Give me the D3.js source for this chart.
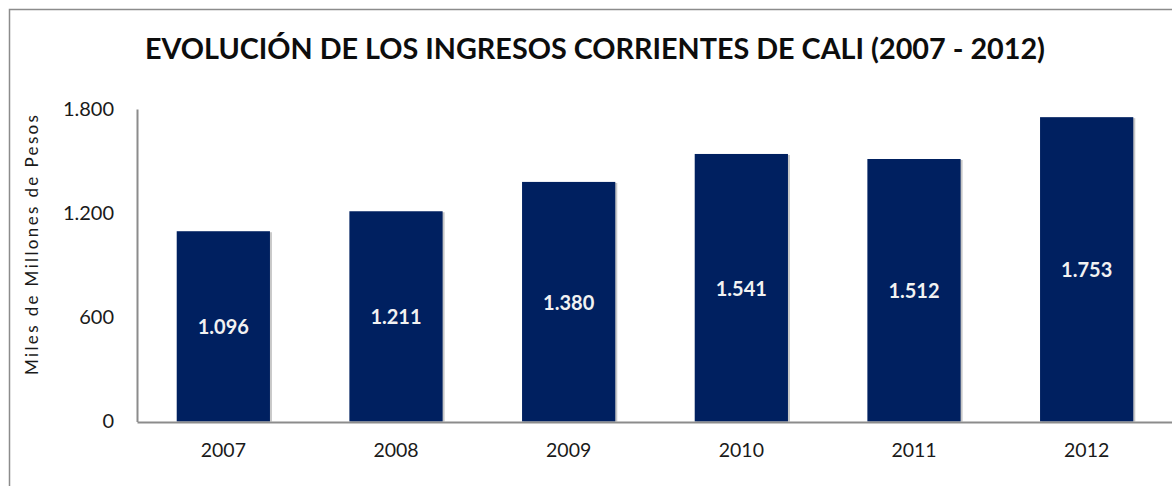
<!DOCTYPE html>
<html>
<head>
<meta charset="utf-8">
<script src="https://cdn.jsdelivr.net/npm/d3@7"></script>
<style>
  body { margin: 0; background: #fff; }
  svg { display: block; font-family: Lato, "Open Sans", sans-serif; }
</style>
</head>
<body>
<div id="chart"></div>
<script>
(function(){

  var width = 1172;
  var height = 486;

  var years = ['2007', '2008', '2009', '2010', '2011', '2012'];
  var ingresos = [1096, 1211, 1380, 1541, 1512, 1753];
  var yTicks = [0, 600, 1200, 1800];

  var margin = {top: 109, right: -1, bottom: 64, left: 137};

  var svg = d3.select('#chart')
        .append('svg')
        .attr('width', width)
        .attr('height', height);

  // chart frame (runs off right and bottom edge)
  svg.append('rect')
    .attr('x', 9.5).attr('y', 9.5)
    .attr('width', width + 20).attr('height', height + 20)
    .attr('fill', '#fff')
    .attr('stroke', '#8c8c8c')
    .attr('stroke-width', 1.5);

  var x = d3.scaleBand()
      .domain(years)
      .range([margin.left, width - margin.right])
      .paddingInner(0.46)
      .paddingOuter(0.23);

  var y = d3.scaleLinear()
      .domain([0, 1800])
      .range([height - margin.bottom - 0.5, margin.top]);

  // dot as thousands separator
  var fmt = function(v){
    return d3.format(',')(v).replace(/,/g, '.');
  };

  svg.append('text')
    .attr('x', 145)
    .attr('y', 59)
    .attr('textLength', 900)
    .attr('lengthAdjust', 'spacingAndGlyphs')
    .attr('font-size', 28)
    .attr('font-weight', 'bold')
    .attr('fill', '#0d0d0d')
    .text('EVOLUCIÓN DE LOS INGRESOS CORRIENTES DE CALI (2007 - 2012)');

  // shadows
  svg.selectAll('rect.shadow')
    .data(ingresos)
    .enter()
    .append('rect')
      .attr('class', 'shadow')
      .attr('x', function(d, i){ return x(years[i]) + 2; })
      .attr('y', function(d){ return y(d) + 1; })
      .attr('width', x.bandwidth())
      .attr('height', function(d){ return y(0) - y(d) - 1; })
      .attr('fill', '#c8c8c8');

  svg.selectAll('rect.bar')
    .data(ingresos)
    .enter()
    .append('rect')
      .attr('class', 'bar')
      .attr('x', function(d, i){ return x(years[i]); })
      .attr('y', function(d){ return y(d); })
      .attr('width', x.bandwidth())
      .attr('height', function(d){ return y(0) - y(d); })
      .attr('fill', '#002060');

  // axes
  var yAxis = d3.axisLeft(y).tickValues(yTicks).tickSize(0).tickPadding(23).tickFormat(fmt);
  var gy = svg.append('g')
      .attr('transform', 'translate(' + margin.left + ',0)')
      .call(yAxis);
  gy.select('.domain').attr('stroke', '#8c8c8c').attr('stroke-width', 2);
  gy.selectAll('text')
    .attr('font-size', 20)
    .attr('font-family', 'Lato, sans-serif')
    .attr('fill', '#1a1a1a');

  var xAxis = d3.axisBottom(x).tickSize(0).tickPadding(21);
  var gx = svg.append('g')
      .attr('transform', 'translate(0,' + (height - margin.bottom) + ')')
      .call(xAxis);
  gx.select('.domain').attr('stroke', '#8c8c8c').attr('stroke-width', 2);
  gx.selectAll('text')
    .attr('font-size', 19.5)
    .attr('font-family', 'Lato, sans-serif')
    .attr('fill', '#1a1a1a');

  // value labels
  svg.selectAll('text.val')
    .data(ingresos)
    .enter()
    .append('text')
      .attr('class', 'val')
      .attr('x', function(d, i){ return x(years[i]) + x.bandwidth() / 2; })
      .attr('y', function(d){ return (y(d) + y(0)) / 2 + 1; })
      .attr('dy', '0.35em')
      .attr('text-anchor', 'middle')
      .attr('font-size', 20)
      .attr('font-weight', 'bold')
      .attr('fill', '#f2f2f2')
      .text(function(d){ return fmt(d); });

  svg.append('text')
    .attr('transform', 'translate(38,245) rotate(-90)')
    .attr('text-anchor', 'middle')
    .attr('font-size', 17)
    .attr('textLength', 260)
    .attr('lengthAdjust', 'spacing')
    .attr('fill', '#1a1a1a')
    .text('Miles de Millones de Pesos');

})();
</script>
</body>
</html>
